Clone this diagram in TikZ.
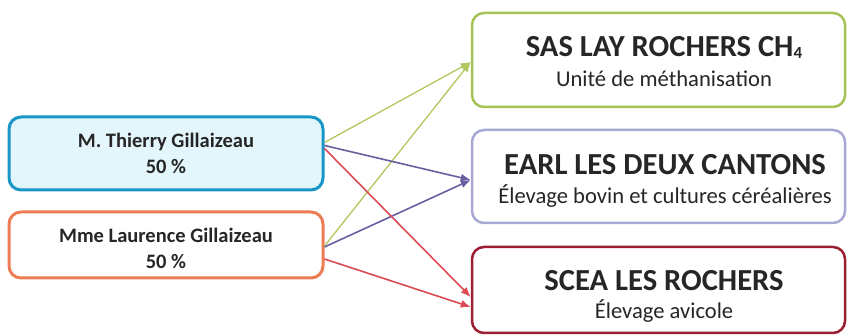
\documentclass[tikz,border=0pt]{standalone}
\usepackage{fontspec}
\setmainfont{Carlito}
\usepackage{tikz}
\usetikzlibrary{arrows.meta}
\definecolor{ownerblue}{RGB}{25,150,200}
\definecolor{ownerbluefill}{RGB}{226,246,252}
\definecolor{ownerorange}{RGB}{238,125,85}
\definecolor{firmgreen}{RGB}{165,195,85}
\definecolor{firmlavender}{RGB}{168,168,212}
\definecolor{firmred}{RGB}{155,30,50}
\definecolor{linkgreen}{RGB}{175,200,95}
\definecolor{linkpurple}{RGB}{105,95,160}
\definecolor{linkred}{RGB}{220,75,85}

\begin{document}
\begin{tikzpicture}[x=1pt, y=1pt,
    ownerbox/.style={rectangle, rounded corners=12pt, line width=3pt, minimum width=314pt},
    firmbox/.style={rectangle, rounded corners=12pt, line width=2.5pt, minimum width=373pt, fill=white},
    ownertext/.style={anchor=base, text=black!85, font=\fontsize{20.5}{24}\selectfont\bfseries},
    firmtitle/.style={anchor=base, text=black!85, font=\fontsize{30.6}{34}\selectfont\bfseries},
    firmsub/.style={anchor=base, text=black!85, font=\fontsize{22.6}{26}\selectfont},
    link/.style={-{Latex[length=10pt,width=8pt]}, line width=1.6pt}]
    \useasboundingbox (0,0) rectangle (848,336);

    % Owners
    \node[ownerbox, draw=ownerblue, fill=ownerbluefill, minimum height=73pt] (thierry) at (166,182.5) {};
    \node[ownertext] (thierryname) at (166,188.7) {M. Thierry Gillaizeau};
    \node[ownertext] (thierryshare) at (166,162) {50~\%};

    \node[ownerbox, draw=ownerorange, fill=white, minimum height=66pt] (laurence) at (166,91) {};
    \node[ownertext] (laurencename) at (166,93.3) {Mme Laurence Gillaizeau};
    \node[ownertext] (laurenceshare) at (166,67.7) {50~\%};

    % Companies
    \node[firmbox, draw=firmgreen, minimum height=94pt] (sas) at (658.5,276) {};
    \node[firmtitle] (sastitle) at (664,279) {SAS LAY ROCHERS CH\raisebox{-1.5pt}{\fontsize{17}{18}\selectfont 4}};
    \node[firmsub] (sassub) at (664,249.3) {Unité de méthanisation};

    \node[firmbox, draw=firmlavender, minimum height=93pt] (earl) at (658.5,159.5) {};
    \node[firmtitle] (earltitle) at (665,161) {EARL LES DEUX CANTONS};
    \node[firmsub] (earlsub) at (665,132.7) {Élevage bovin et cultures céréalières};

    \node[firmbox, draw=firmred, minimum height=86pt] (scea) at (658.5,46) {};
    \node[firmtitle] (sceatitle) at (664,45) {SCEA LES ROCHERS};
    \node[firmsub] (sceasub) at (664,17.3) {Élevage avicole};

    % Shares
    \draw[link, linkgreen, line width=1.3pt] ([yshift=11pt]thierry.east) -- ([yshift=-2pt]sas.west);
    \draw[link, linkgreen, line width=1.3pt] ([yshift=-1pt]laurence.east) -- ([yshift=-2pt]sas.west);
    \draw[link, linkpurple] ([yshift=8pt]thierry.east) -- ([yshift=-3.5pt]earl.west);
    \draw[link, linkpurple] ([yshift=-2pt]laurence.east) -- ([yshift=-3.5pt]earl.west);
    \draw[link, linkred] ([yshift=5pt]thierry.east) -- ([yshift=-7pt]scea.west);
    \draw[link, linkred] ([yshift=-14pt]laurence.east) -- ([yshift=-17pt]scea.west);
\end{tikzpicture}
\end{document}
